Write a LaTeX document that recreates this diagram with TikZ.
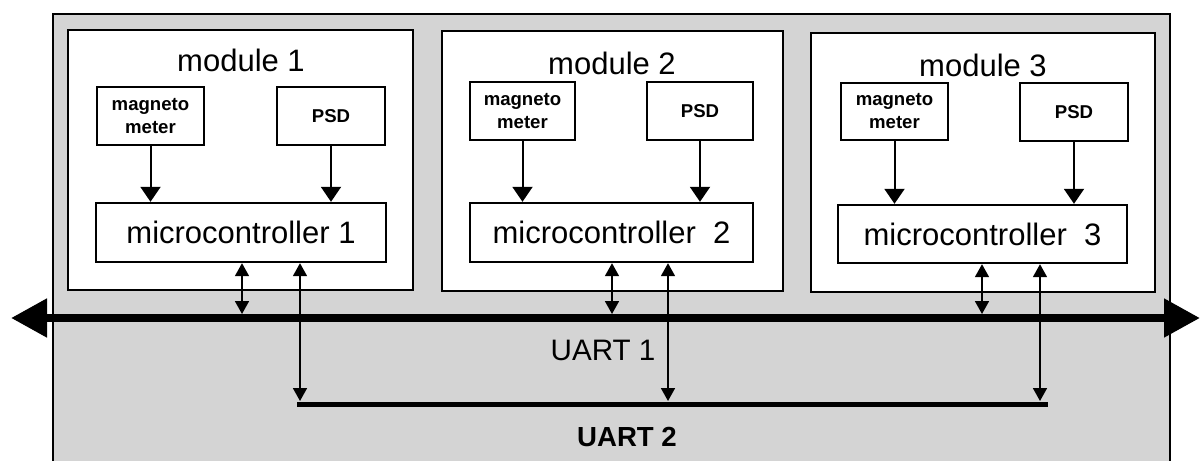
\documentclass[tikz,border=0pt]{standalone}
\usepackage{fontspec}
\setmainfont{Liberation Sans}
\usetikzlibrary{arrows.meta}

\tikzset{
  module/.style={draw, line width=1.4pt, fill=white, inner sep=0pt},
  sensor/.style={draw, line width=1.2pt, fill=white, inner sep=0pt, align=center,
    font=\bfseries\fontsize{9.3}{11.5}\selectfont},
  mcu/.style={draw, line width=1.2pt, fill=white, inner sep=0pt,
    font=\fontsize{15.5}{18}\selectfont},
  title/.style={inner sep=0pt, font=\fontsize{15.5}{18}\selectfont},
  feed/.style={line width=1pt, -{Triangle[length=7.5pt,width=10pt]}},
  link/.style={line width=0.9pt, {Triangle[length=6.5pt,width=7pt]}-{Triangle[length=6.5pt,width=7pt]}},
  bus/.style={line width=4pt, {Triangle[length=18pt,width=18.5pt]}-{Triangle[length=18pt,width=18.5pt]}},
  bus2/.style={line width=2.5pt},
}

\begin{document}
\begin{tikzpicture}[x=0.5pt, y=-0.5pt]
  \useasboundingbox (0,0) rectangle (1201,461);

  % shared backplane
  \fill[black!17] (53,14) rectangle (1170,461);
  \draw[line width=1.4pt] (53,461) -- (53,14) -- (1170,14) -- (1170,461);

  % module 1
  \node[module, minimum width=172.5pt, minimum height=130pt] (m1) at (240.5,160) {};
  \node[title] (t1) at (241,60) {module 1};
  \node[sensor, minimum width=53.5pt, minimum height=29pt] (mag1) at (150.5,116) {magneto\\meter};
  \node[sensor, minimum width=54pt, minimum height=29pt] (psd1) at (331,116) {PSD};
  \node[mcu, minimum width=145pt, minimum height=29.5pt] (mc1) at (241,232.5) {microcontroller 1};

  % module 2
  \node[module, minimum width=170.5pt, minimum height=130pt] (m2) at (612.5,161) {};
  \node[title] (t2) at (612,63) {module 2};
  \node[sensor, minimum width=52.5pt, minimum height=29pt] (mag2) at (522.5,111) {magneto\\meter};
  \node[sensor, minimum width=53pt, minimum height=29pt] (psd2) at (700,111) {PSD};
  \node[mcu, minimum width=141.5pt, minimum height=29.5pt] (mc2) at (611.5,232.5) {microcontroller\ \ 2};

  % module 3
  \node[module, minimum width=172pt, minimum height=129.5pt] (m3) at (983,162.5) {};
  \node[title] (t3) at (983,65) {module 3};
  \node[sensor, minimum width=53.5pt, minimum height=28.5pt] (mag3) at (894.5,111.5) {magneto\\meter};
  \node[sensor, minimum width=54pt, minimum height=29pt] (psd3) at (1074,112) {PSD};
  \node[mcu, minimum width=144.5pt, minimum height=29pt] (mc3) at (982.5,234) {microcontroller\ \ 3};

  % sensor inputs
  \foreach \i in {1,2,3} {
    \draw[feed] (mag\i.south) -- (mag\i.south |- mc\i.north);
    \draw[feed] (psd\i.south) -- (psd\i.south |- mc\i.north);
  }

  % bus end points
  \coordinate (u1l) at (11,318);
  \coordinate (u1r) at (1200,318);
  \coordinate (u2l) at (297,404);
  \coordinate (u2r) at (1048,404);

  % UART 1 bus
  \draw[bus] (u1l) -- (u1r);
  \node[inner sep=0pt, font=\fontsize{14.8}{17}\selectfont] (lu1) at (603,350) {UART 1};

  % UART 2 bus
  \draw[bus2] (u2l) -- (u2r);
  \node[inner sep=0pt, font=\bfseries\fontsize{13.8}{16}\selectfont] (lu2) at (627,437) {UART 2};

  % tap points
  \coordinate (a1) at (242,314);  \coordinate (b1) at (300,401);
  \coordinate (a2) at (612,314);  \coordinate (b2) at (668,401);
  \coordinate (a3) at (982,314);  \coordinate (b3) at (1040,401);

  % microcontroller links to both buses
  \foreach \i in {1,2,3} {
    \draw[link] (a\i |- mc\i.south) -- (a\i);
    \draw[link] (b\i |- mc\i.south) -- (b\i);
  }
\end{tikzpicture}
\end{document}
